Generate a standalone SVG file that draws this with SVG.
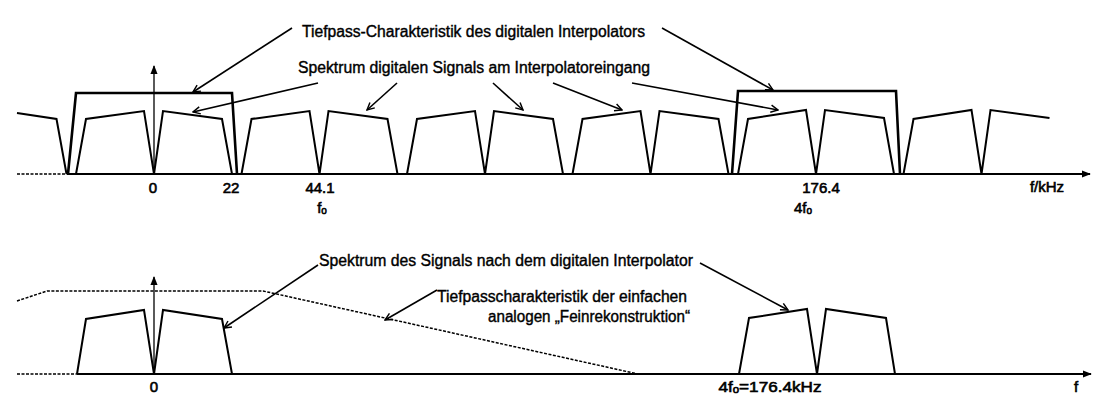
<svg xmlns="http://www.w3.org/2000/svg" width="1109" height="413" viewBox="0 0 1109 413">
<defs>
<marker id="open" viewBox="0 0 10 10" refX="9" refY="5" markerWidth="9" markerHeight="9" markerUnits="userSpaceOnUse" orient="auto">
<path d="M1,1 L9,5 L1,9" fill="none" stroke="#000" stroke-width="1.6"/>
</marker>
<marker id="solid" viewBox="0 0 10 10" refX="9" refY="5" markerWidth="9" markerHeight="9" markerUnits="userSpaceOnUse" orient="auto">
<path d="M0,1 L10,5 L0,9 Z" fill="#000"/>
</marker>
<style>
.sp{fill:none;stroke:#000;stroke-width:2;stroke-linejoin:miter}
.lp{fill:none;stroke:#000;stroke-width:2.6}
.ax{fill:none;stroke:#000;stroke-width:2.2}
.dot{fill:none;stroke:#000;stroke-width:1.5;stroke-dasharray:3 1.5}
.ar{fill:none;stroke:#000;stroke-width:1.6;marker-end:url(#open)}
.va{fill:none;stroke:#000;stroke-width:1.3;marker-end:url(#solid)}
text{font-family:"Liberation Sans",Arial,sans-serif;fill:#000;stroke:#000;stroke-width:0.4}
.lb{font-size:16px}
.nm{font-size:15px;text-anchor:middle;stroke-width:0.6}
</style>
</defs>

<g id="top-axis">
<line class="dot" x1="17" y1="174" x2="67" y2="174"/>
<line class="ax" x1="67" y1="174" x2="1090" y2="174" marker-end="url(#solid)"/>
<line class="va" x1="154" y1="174" x2="154" y2="66"/>
</g>

<g id="top-spectrum">
<polyline class="sp" points="17,113 56.5,119 66.5,174"/>
<polyline class="sp" points="76,174 86,119 144,111 154,174 163,111 222,119 232,174"/>
<polyline class="sp" points="241.5,174 251.5,119 309.5,111 319.5,174 328.5,111 387.5,119 397.5,174"/>
<polyline class="sp" points="407,174 417,119 475,111 485,174 494,111 553,119 563,174"/>
<polyline class="sp" points="572.5,174 582.5,119 640.5,111 650.5,174 659.5,111 718.5,119 728.5,174"/>
<polyline class="sp" points="738,174 748,119 806,110 816,174 825,110 884,118 894,174"/>
<polyline class="sp" points="903.5,174 913.5,119 971.5,110 981.5,174 990.5,110 1049.5,118"/>
</g>

<g id="top-lowpass">
<polyline class="lp" points="68,174 76,93 232,93 237,174"/>
<polyline class="lp" points="732,174 738,91 896,91 900,174"/>
</g>

<g id="top-labels">
<text class="lb" x="302" y="37" textLength="343" lengthAdjust="spacingAndGlyphs">Tiefpass-Charakteristik des digitalen Interpolators</text>
<text class="lb" x="298" y="73" textLength="352" lengthAdjust="spacingAndGlyphs">Spektrum digitalen Signals am Interpolatoreingang</text>
<text class="nm" x="153" y="193">0</text>
<text class="nm" x="231" y="193">22</text>
<text class="nm" x="320" y="193">44.1</text>
<text class="nm" x="322" y="213" text-anchor="start">f<tspan font-size="10" dy="1">o</tspan></text>
<text class="nm" x="821" y="193">176.4</text>
<text class="nm" x="803" y="213" text-anchor="start">4f<tspan font-size="10" dy="1">o</tspan></text>
<text class="nm" x="1047" y="192" text-anchor="start">f/kHz</text>
</g>

<g id="bottom-axis">
<line class="dot" x1="17" y1="374" x2="77" y2="374"/>
<line class="ax" x1="77" y1="374" x2="1091" y2="374" marker-end="url(#solid)"/>
<line class="va" x1="154" y1="374" x2="154" y2="277"/>
</g>

<g id="bottom-spectrum">
<polyline class="sp" points="77,374 86,319 144,310 154,374 163,310 222,319 232,374"/>
<polyline class="sp" points="739,374 749,318 807,309 817,374 826,309 886,318 895,374"/>
</g>

<g id="bottom-lowpass">
<polyline class="dot" points="17,301 47,291 263,291 638,374"/>
</g>

<g id="bottom-labels">
<text class="lb" x="319" y="266" textLength="374" lengthAdjust="spacingAndGlyphs">Spektrum des Signals nach dem digitalen Interpolator</text>
<text class="lb" x="437" y="302" textLength="250" lengthAdjust="spacingAndGlyphs">Tiefpasscharakteristik der einfachen</text>
<text class="lb" x="488" y="322" textLength="202" lengthAdjust="spacingAndGlyphs">analogen „Feinrekonstruktion“</text>
<text class="nm" x="154" y="392">0</text>
<text class="nm" x="770" y="392" text-anchor="start" textLength="103" lengthAdjust="spacingAndGlyphs">4f<tspan font-size="10" dy="1">o</tspan><tspan dy="-1">=176.4kHz</tspan></text>
<text class="nm" x="1076" y="392">f</text>
</g>

<g id="connectors">
<line class="ar" x1="292" y1="28" x2="193" y2="92"/>
<line class="ar" x1="662" y1="28" x2="773" y2="90"/>
<line class="ar" x1="318" y1="83" x2="193" y2="112"/>
<line class="ar" x1="397" y1="83" x2="367" y2="110"/>
<line class="ar" x1="493" y1="83" x2="523" y2="110"/>
<line class="ar" x1="553" y1="83" x2="622" y2="110"/>
<line class="ar" x1="632" y1="83" x2="778" y2="110"/>
<line class="ar" x1="318" y1="265" x2="224" y2="328"/>
<line class="ar" x1="700" y1="263" x2="788" y2="310"/>
<line class="ar" x1="437" y1="290" x2="385" y2="320"/>
</g>
</svg>
